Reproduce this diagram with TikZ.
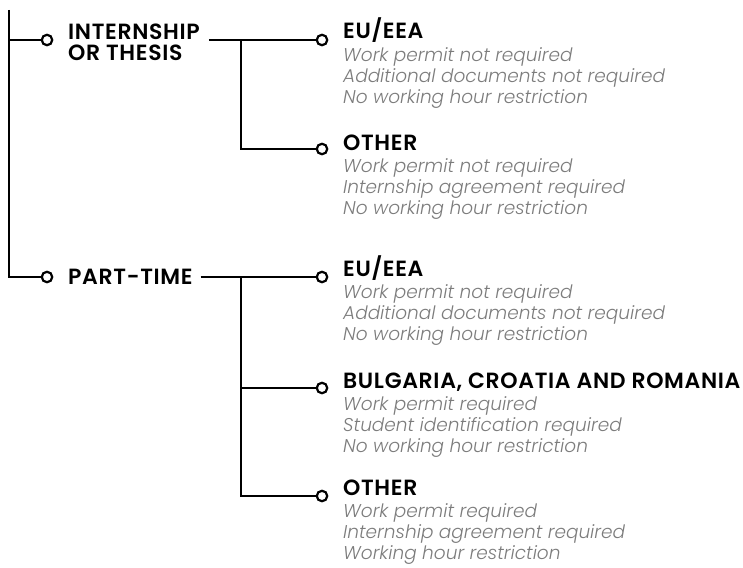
\documentclass[tikz,border=0pt]{standalone}
\usepackage{fontspec}
\setmainfont{Poppins}
\newfontfamily\headfont{Poppins}[BoldFont={* SemiBold},LetterSpace=3]
\newfontfamily\detailfont{Poppins}[ItalicFont={* Light Italic}]
\usetikzlibrary{positioning}
\definecolor{textgray}{HTML}{7C7C7C}

\begin{document}
\begin{tikzpicture}[x=1pt,y=-1pt,
	dot/.style={circle,draw=black,fill=white,line width=2.2pt,inner sep=0pt,minimum size=10.5pt},
	rootlabel/.style={font=\fontsize{22}{21}\headfont\bfseries,anchor=west,align=left,inner sep=0pt},
	headlabel/.style={font=\fontsize{22}{21}\headfont\bfseries,anchor=base west,inner sep=0pt},
	detail/.style={font=\fontsize{18.5}{21}\detailfont\itshape,text=textgray,align=left,inner sep=0pt,below=8pt of #1.base west,anchor=north west},
	link/.style={line width=1.2pt}]
	\useasboundingbox (0,0) rectangle (743,567);
	\coordinate (top) at (9,10);
	\node[dot] (intdot) at (47,40) {};
	\node[dot] (ptdot) at (47,277) {};
	\node[rootlabel] (int) at (68,42) {INTERNSHIP\\OR THESIS};
	\node[rootlabel] (pt) at (68,277) {PART-TIME};
	\coordinate (intend) at ([xshift=9pt]int.east);
	\coordinate (ptend) at ([xshift=8pt]pt.east);
	\coordinate (intfork) at (241,40);
	\coordinate (ptfork) at (241,277);

	\node[dot] (inteudot) at (322,40) {};
	\node[headlabel] (inteu) at (343,39) {EU/EEA};
	\node[detail=inteu] (inteutext) {Work permit not required\\Additional documents not required\\No working hour restriction};

	\node[dot] (intotdot) at (322,149) {};
	\node[headlabel] (intot) at (343,150) {OTHER};
	\node[detail=intot] (intottext) {Work permit not required\\Internship agreement required\\No working hour restriction};

	\node[dot] (pteudot) at (322,277) {};
	\node[headlabel] (pteu) at (343,276) {EU/EEA};
	\node[detail=pteu] (pteutext) {Work permit not required\\Additional documents not required\\No working hour restriction};

	\node[dot] (ptbgdot) at (322,388) {};
	\node[headlabel] (ptbg) at (343,388) {BULGARIA, CROATIA AND ROMANIA};
	\node[detail=ptbg] (ptbgtext) {Work permit required\\Student identification required\\No working hour restriction};

	\node[dot] (ptotdot) at (322,496) {};
	\node[headlabel] (ptot) at (343,495) {OTHER};
	\node[detail=ptot] (ptottext) {Work permit required\\Internship agreement required\\Working hour restriction};

	\draw[link] (top) |- (ptdot.west);
	\draw[link] (top |- intdot) -- (intdot.west);
	\draw[link] (intend |- intdot) -- (inteudot.west);
	\draw[link] (intfork) |- (intotdot.west);
	\draw[link] (ptend |- ptdot) -- (pteudot.west);
	\draw[link] (ptfork) |- (ptotdot.west);
	\draw[link] (ptfork |- ptbgdot) -- (ptbgdot.west);
\end{tikzpicture}
\end{document}
